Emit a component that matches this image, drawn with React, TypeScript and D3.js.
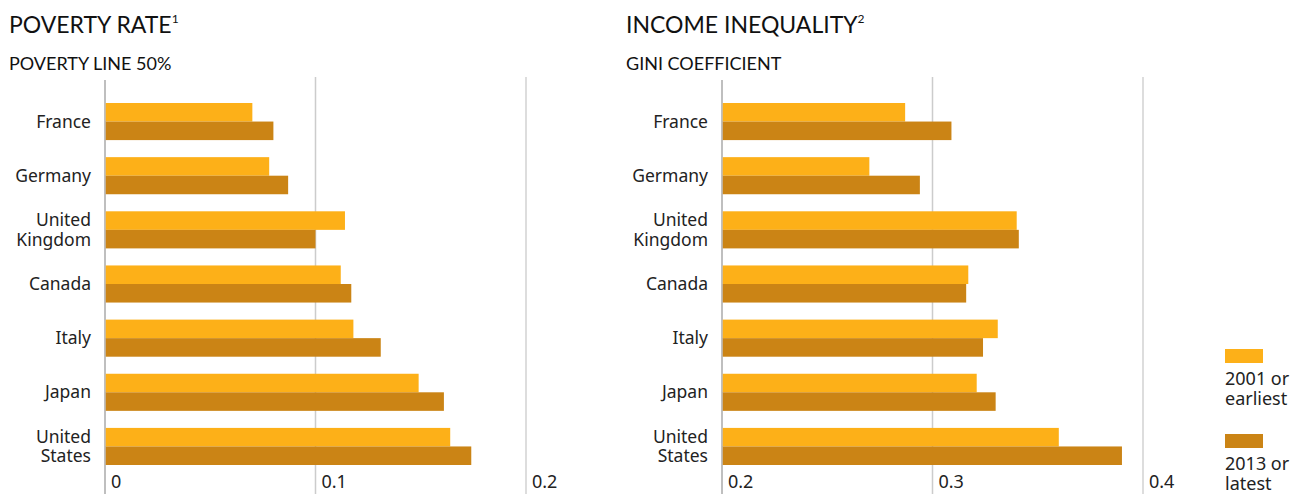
import React from "react";
import * as d3 from "d3";

const countries = ["France", "Germany", "United Kingdom", "Canada", "Italy", "Japan", "United States"];
const countryLines = [["France"], ["Germany"], ["United", "Kingdom"], ["Canada"], ["Italy"], ["Japan"], ["United", "States"]];
const povertyEarly = [0.070, 0.078, 0.114, 0.112, 0.118, 0.149, 0.164];
const povertyLate = [0.080, 0.087, 0.100, 0.117, 0.131, 0.161, 0.174];
const giniEarly = [0.287, 0.270, 0.340, 0.317, 0.331, 0.321, 0.360];
const giniLate = [0.309, 0.294, 0.341, 0.316, 0.324, 0.330, 0.390];
const povertyTicks = [0, 0.1, 0.2];
const giniTicks = [0.2, 0.3, 0.4];
const seriesNames = [["2001 or", "earliest"], ["2013 or", "latest"]];

const COL_EARLY = "#FDB018";
const COL_LATE = "#CB8415";
const FONT = "'Noto Sans', sans-serif";
const TITLE_FONT = "Lato, 'Noto Sans', sans-serif";

type PanelProps = {
  x0: number;
  domain: [number, number];
  ticks: number[];
  early: number[];
  late: number[];
  title: string;
  sup: string;
  subtitle: string;
  titleX: number;
  labelX: number;
};

function Panel({ x0, domain, ticks, early, late, title, sup, subtitle, titleX, labelX }: PanelProps) {
  const x = d3.scaleLinear().domain(domain).range([x0, x0 + 421]);
  const y = d3.scaleBand<string>().domain(countries).range([103, 465]).paddingInner(0.315).paddingOuter(0);
  const bw = y.bandwidth();
  return (
    <g>
      <text x={titleX} y={33} fontFamily={TITLE_FONT} fontSize={23} fill="#111">
        {title}
        <tspan fontSize={12} dy={-10}>{sup}</tspan>
      </text>
      <text x={titleX} y={70} fontFamily={TITLE_FONT} fontSize={18} fill="#111">{subtitle}</text>
      {ticks.map((t, i) => (
        <g key={t}>
          <line
            x1={x(t)} x2={x(t)} y1={i === 0 ? 80 : 77} y2={494}
            stroke={i === 0 ? "#aaa" : i === ticks.length - 1 ? "#ddd" : "#ccc"}
            strokeWidth={i === ticks.length - 1 ? 2 : 1.5}
          />
          <text x={x(t) + 6} y={488} fontFamily={FONT} fontSize={18} fill="#222">{d3.format("")(t)}</text>
        </g>
      ))}
      {countries.map((c, i) => {
        const top = y(c)!;
        const lines = countryLines[i];
        const mid = top + bw / 2;
        return (
          <g key={c}>
            <rect x={x(domain[0]) + 0.75} y={top} width={x(early[i]) - x(domain[0]) - 0.75} height={bw / 2} fill={COL_EARLY} />
            <rect x={x(domain[0]) + 0.75} y={top + bw / 2} width={x(late[i]) - x(domain[0]) - 0.75} height={bw / 2} fill={COL_LATE} />
            {lines.map((l, j) => (
              <text
                key={l}
                x={labelX}
                y={mid + 6 + (j - (lines.length - 1) / 2) * 19.5}
                textAnchor="end"
                fontFamily={FONT}
                fontSize={17.5}
                fill="#222"
              >
                {l}
              </text>
            ))}
          </g>
        );
      })}
    </g>
  );
}

export default function App() {
  const legendColors = [COL_EARLY, COL_LATE];
  return (
    <div style={{ position: "absolute", left: 0, top: 0 }}>
      <svg width={1300} height={494} style={{ display: "block", background: "#fff" }}>
        <Panel
          x0={105} domain={[0, 0.2]} ticks={povertyTicks} early={povertyEarly} late={povertyLate}
          title="POVERTY RATE" sup="1" subtitle="POVERTY LINE 50%" titleX={9} labelX={91}
        />
        <Panel
          x0={722} domain={[0.2, 0.4]} ticks={giniTicks} early={giniEarly} late={giniLate}
          title="INCOME INEQUALITY" sup="2" subtitle="GINI COEFFICIENT" titleX={626} labelX={708}
        />
        {seriesNames.map((s, i) => (
          <g key={i} transform={`translate(1225, ${349 + i * 85})`}>
            <rect x={0} y={0} width={38} height={14} fill={legendColors[i]} />
            {s.map((l, j) => (
              <text key={l} x={0} y={36 + j * 20} fontFamily={FONT} fontSize={18} fill="#222">{l}</text>
            ))}
          </g>
        ))}
      </svg>
    </div>
  );
}
